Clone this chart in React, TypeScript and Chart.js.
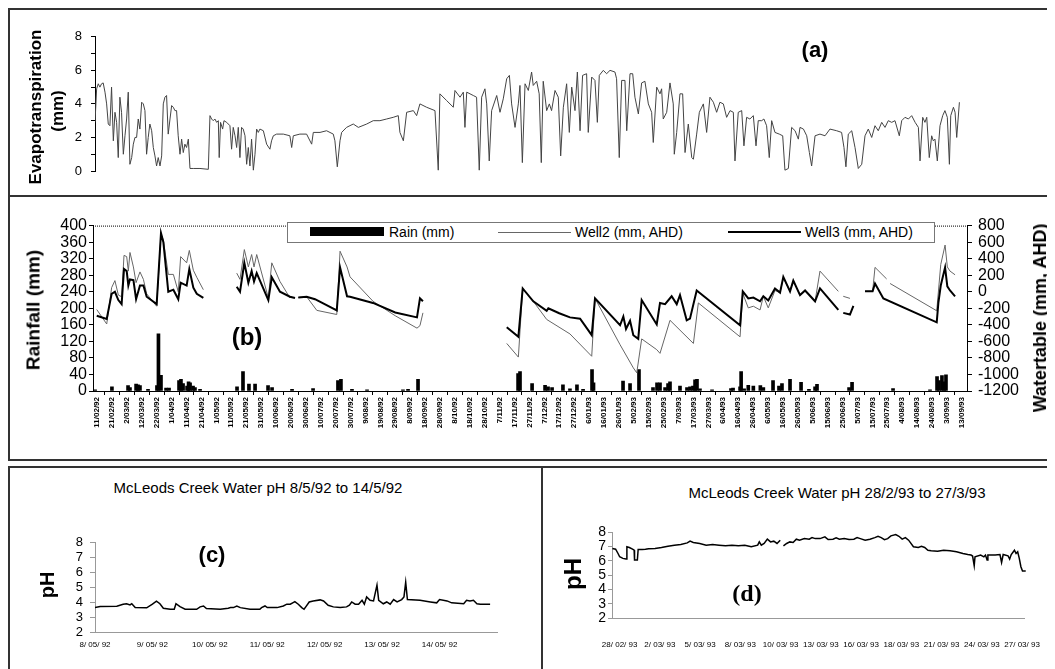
import React, { useEffect, useRef } from "react";
import { Chart, registerables } from "chart.js";
Chart.register(...registerables);

const SANS = '"Liberation Sans", Arial, Helvetica, sans-serif';
const SERIF = '"Liberation Serif", "Times New Roman", serif';
Chart.defaults.font.family = SANS;
Chart.defaults.color = "#000";

// ---------- Panel (a): evapotranspiration (x = days since 11/02/92) ----------
const etDays = [
  -1.3, -0.2, 0.9, 2.0, 3.1, 4.2, 5.4, 6.5, 7.6, 8.7, 9.8, 11.0, 12.1, 13.2, 14.3, 15.4, 16.5, 17.7, 18.8, 19.9,
  21.0, 22.1, 23.3, 24.4, 25.5, 26.6, 27.7, 28.8, 30.0, 31.1, 32.2, 33.3, 34.4, 35.5, 36.7, 37.8, 38.9, 40.0, 41.1, 42.3,
  43.4, 44.5, 45.6, 46.7, 47.8, 49.0, 50.1, 51.2, 52.3, 53.4, 54.5, 55.7, 56.8, 57.9, 59.0, 60.1, 61.3, 62.4, 64.6, 69.1,
  74.7, 75.8, 76.9, 78.0, 79.1, 80.3, 81.4, 82.0, 82.9, 84.3, 85.2, 87.0, 89.2, 90.3, 91.4, 92.6, 93.7, 94.8, 95.9, 97.0,
  98.1, 99.3, 100.4, 101.5, 102.6, 103.7, 104.9, 106.0, 107.1, 108.2, 109.3, 111.6, 113.8, 116.0, 117.1, 118.3, 120.5, 125.0, 129.4, 130.6,
  131.7, 136.1, 140.6, 144.0, 145.1, 149.6, 154.0, 158.5, 159.6, 161.2, 163.0, 164.1, 167.4, 171.9, 175.3, 180.9, 185.3, 189.8, 194.3, 198.7,
  202.1, 203.2, 205.5, 207.7, 212.2, 214.4, 216.6, 221.1, 226.7, 228.9, 230.0, 234.5, 239.0, 240.1, 243.5, 245.7, 246.8, 248.0, 252.4, 254.6,
  256.4, 258.0, 260.2, 261.4, 263.1, 264.7, 268.1, 270.3, 272.5, 274.8, 276.6, 278.1, 280.4, 282.6, 283.7, 285.3, 287.1, 289.3, 291.5, 292.6,
  294.9, 296.6, 298.0, 299.3, 301.6, 303.4, 304.9, 307.2, 309.4, 311.0, 312.8, 315.0, 316.8, 318.4, 320.6, 322.2, 324.0, 325.7, 328.4, 329.5,
  331.8, 334.0, 335.6, 336.9, 339.6, 341.8, 344.1, 347.4, 348.5, 350.3, 351.9, 354.1, 355.3, 357.5, 359.3, 360.8, 363.1, 365.3, 367.5, 369.8,
  372.0, 373.1, 375.4, 377.6, 378.7, 379.8, 382.1, 384.3, 386.5, 387.2, 388.8, 391.0, 392.8, 394.4, 396.6, 398.9, 400.0, 402.2, 404.0, 406.7,
  408.9, 411.1, 413.4, 415.6, 417.8, 420.1, 422.3, 424.6, 426.8, 427.9, 430.1, 432.4, 433.9, 435.7, 437.9, 440.2, 442.0, 443.5, 445.8, 447.3,
  449.1, 450.9, 452.5, 454.7, 457.6, 459.9, 461.4, 463.7, 465.9, 468.2, 470.4, 471.5, 473.8, 476.0, 477.8, 479.3, 481.6, 484.9, 488.3, 491.6,
  496.1, 499.4, 501.0, 502.3, 503.9, 506.2, 508.4, 510.6, 512.9, 515.1, 517.3, 519.6, 521.8, 524.0, 526.3, 528.5, 530.7, 533.0, 535.2, 538.1,
  539.7, 541.9, 544.2, 546.4, 548.7, 550.9, 552.0, 553.8, 555.3, 556.5, 558.2, 559.8, 560.9, 562.0, 563.6, 565.4, 567.2, 568.7, 570.3, 571.7,
  572.6, 574.4, 575.5, 576.6, 578.4,
];
const etVals = [
  2.9, 4.9, 5.2, 5.0, 5.2, 5.25, 4.7, 4.0, 2.8, 2.7, 5.0, 1.8, 3.5, 2.9, 0.8, 4.4, 3.5, 1.0, 2.1, 3.1,
  4.7, 0.4, 0.8, 1.6, 2.0, 2.0, 3.1, 2.5, 4.1, 4.0, 3.6, 1.0, 2.0, 2.8, 2.4, 1.4, 0.9, 0.3, 0.8, 0.3,
  0.9, 4.0, 4.4, 4.5, 2.2, 3.1, 3.9, 3.8, 3.6, 3.6, 2.1, 1.0, 1.9, 1.1, 1.6, 1.4, 1.9, 0.15, 0.15, 0.15,
  0.1, 3.3, 3.1, 3.0, 3.1, 2.9, 3.0, 0.8, 2.9, 2.5, 3.0, 2.9, 2.7, 1.3, 2.6, 2.1, 1.4, 2.6, 0.8, 2.6,
  2.5, 2.1, 0.4, 1.4, 0.3, 1.9, 0.05, 1.0, 2.5, 2.3, 2.5, 2.4, 1.6, 1.3, 1.8, 2.1, 2.2, 2.2, 2.1, 1.4,
  2.1, 2.2, 2.2, 1.6, 2.3, 2.3, 2.4, 2.2, 1.8, 0.25, 1.8, 2.3, 2.6, 2.8, 2.6, 2.8, 3.0, 3.0, 3.1, 3.2,
  3.3, 2.3, 1.8, 3.5, 3.6, 3.3, 4.0, 3.8, 3.6, 0.05, 4.6, 4.2, 3.8, 4.8, 4.4, 4.7, 2.6, 4.7, 4.5, 4.4,
  0.05, 4.4, 4.9, 4.0, 0.6, 3.6, 4.5, 3.5, 4.3, 5.5, 5.7, 4.0, 2.6, 4.0, 5.1, 0.5, 5.2, 4.8, 5.9, 5.1,
  5.35, 4.6, 0.5, 5.35, 3.6, 4.0, 3.6, 4.8, 4.4, 0.9, 3.8, 5.2, 2.3, 5.0, 3.6, 5.9, 2.4, 5.7, 5.8, 2.3,
  5.6, 5.4, 2.9, 5.7, 6.0, 5.8, 6.0, 5.9, 5.5, 0.8, 5.4, 5.4, 2.4, 5.8, 5.8, 4.4, 3.4, 5.25, 5.35, 4.0,
  3.5, 1.7, 5.0, 4.6, 4.9, 3.1, 3.5, 5.25, 4.0, 1.0, 2.3, 4.6, 4.6, 1.1, 2.8, 0.8, 0.7, 2.2, 3.5, 4.0,
  2.3, 4.4, 4.1, 3.5, 4.1, 4.0, 3.2, 3.6, 3.5, 0.6, 3.5, 3.6, 1.5, 3.2, 3.1, 3.3, 1.5, 3.0, 3.0, 3.1,
  2.7, 0.8, 3.0, 2.3, 2.2, 2.1, 0.05, 0.15, 2.6, 2.4, 1.9, 2.6, 2.5, 2.1, 1.1, 0.3, 2.1, 2.2, 2.1, 2.5,
  2.4, 2.3, 1.4, 0.25, 2.2, 2.4, 1.4, 0.15, 0.4, 2.1, 2.5, 2.0, 2.7, 2.4, 2.9, 2.6, 3.0, 2.9, 3.0, 2.1,
  3.0, 3.2, 3.1, 3.3, 2.9, 2.6, 0.6, 3.2, 2.9, 3.2, 0.8, 2.1, 1.8, 1.9, 0.6, 2.7, 3.3, 3.6, 3.2, 0.4,
  3.3, 3.8, 3.5, 2.0, 4.1,
];

// ---------- Panel (b): rainfall and water table ----------
const bTickLabels = [
  "11/02/92", "21/02/92", "2/03/92", "12/03/92", "22/03/92", "1/04/92", "11/04/92", "21/04/92", "1/05/92", "11/05/92",
  "21/05/92", "31/05/92", "10/06/92", "20/06/92", "30/06/92", "10/07/92", "20/07/92", "30/07/92", "9/08/92", "19/08/92",
  "29/08/92", "8/09/92", "18/09/92", "28/09/92", "8/10/92", "18/10/92", "28/10/92", "7/11/92", "17/11/92", "27/11/92",
  "7/12/92", "17/12/92", "27/12/92", "6/01/93", "16/01/93", "26/01/93", "5/02/93", "15/02/93", "25/02/93", "7/03/93",
  "17/03/93", "27/03/93", "6/04/93", "16/04/93", "26/04/93", "6/05/93", "16/05/93", "26/05/93", "5/06/93", "15/06/93",
  "25/06/93", "5/07/93", "15/07/93", "25/07/93", "4/08/93", "14/08/93", "24/08/93", "3/09/93", "13/09/93",
];
const rainDays = [
  -1.3, 10, 20.8, 22.1, 26.2, 27.5, 28.8, 34.2, 40.2, 41.2, 42.9, 46.3, 48.3, 55, 56.3, 57.7, 60.4, 61.4, 62.4, 64.4,
  65.7, 69.1, 93.9, 97.9, 101.9, 106, 114.7, 117.4, 130.8, 144.9, 161.6, 163.6, 171, 181.1, 205.2, 208.6, 215.3, 282.4, 283.7, 291.8,
  300.5, 302.5, 305.2, 312.5, 317.2, 321.9, 326, 332, 333, 352.8, 357.5, 363.5, 372.9, 375.6, 377.6, 381, 383, 384.3, 391, 395.7,
  397.7, 399.7, 401.1, 402.4, 404.4, 412.5, 425.2, 426.6, 431.3, 432, 434, 436.8, 440.2, 444.9, 446.9, 453.4, 457.4, 459.4, 464.8, 472.2,
  477.5, 481.6, 482.9, 504.4, 506.4, 533.9, 558.7, 563.4, 564.7, 566.7, 568.1, 569.4,
];
const rainVals = [
  3, 10, 13, 8, 17, 15, 13, 4, 13, 138, 38, 7, 7, 25, 28, 18, 12, 22, 20, 12,
  8, 4, 10, 47, 17, 17, 13, 8, 4, 6, 25, 28, 4, 3, 3, 4, 28, 42, 47, 18,
  14, 10, 8, 15, 5, 15, 4, 52, 20, 24, 18, 52, 8, 20, 20, 8, 18, 22, 12, 8,
  10, 12, 27, 28, 5, 3, 6, 7, 10, 47, 5, 14, 12, 13, 8, 25, 12, 18, 28, 21,
  4, 10, 16, 8, 21, 6, 3, 35, 25, 37, 22, 39,
];
const well2Days = [
  -0.2, 6.5, 9.8, 12, 14.3, 16.5, 18.1, 19.9, 21, 22.1, 24.4, 26.2, 28.8, 31.1, 33.3, 40, 42.9, 44.5, 47.8, 51.2,
  54.5, 56.1, 60.1, 61.9, 64.6, 66.9, 71.3, 80, 93.7, 95.9, 98.8, 101.5, 103.7, 105.3, 107.1, 114.9, 117.2, 122.7, 129.4, 132,
  135, 140.6, 147.4, 160.8, 163, 167.7, 169.7, 185.1, 200, 214.6, 216.6, 218.6, 240, 274.8, 282.6, 285.5, 292.6, 301.6, 317.2, 331.8,
  334, 350.8, 359.7, 362, 365.3, 375.4, 377.6, 384.3, 400, 403.3, 431.3, 433.1, 436.8, 440.2, 444.7, 446.9, 450.2, 454.7, 458.1, 460.3,
  464.8, 467, 471.5, 474.9, 481.6, 484.9, 497.2, 499, 500.5, 505, 510, 515.1, 520.2, 521.8, 529.6, 530.5, 531.9, 563.2, 565.9, 568.8,
  570.3, 572.1, 575.5,
];
const well2Vals = [
  -215, -390, 50, 135, -40, -60, 440, 425, 250, 475, 300, 110, 240, 150, -25, -175, 700, 625, 210, 210,
  0, 425, 350, 500, 260, 175, 25, null, 225, 150, 510, 300, 450, 300, 450, -75, 350, 125, -75, null,
  -70, -60, -225, -275, 490, 300, 180, -115, -290, -440, -410, -255, null, -625, -790, 40, -115, -335, -510, -780,
  -80, -640, -920, -980, -570, -700, -745, -345, -625, -135, -545, -20, -195, -175, -220, -55, -195, 15, -10, 165,
  5, 135, -40, 15, -115, 250, 5, null, -55, -80, null, 5, 5, 295, 155, null, 100, -230, 330, 565,
  300, 250, 205,
];
const well3Days = [
  -0.2, 6.5, 9.8, 12, 14.3, 16.5, 18.1, 19.9, 21, 22.1, 24.4, 26.2, 28.8, 31.1, 33.3, 40, 42.9, 44.5, 47.8, 51.2,
  54.5, 56.1, 60.1, 61.9, 64.6, 66.9, 71.3, 80, 93.7, 95.9, 98.8, 101.5, 103.7, 105.3, 107.1, 114.9, 117.2, 122.7, 129.4, 132.8,
  134, 135, 140.6, 146.2, 160.8, 163, 167.7, 169.7, 185.1, 200, 214.6, 216.6, 218.6, 240, 274.8, 282.6, 285.5, 292.6, 301.6, 302.7,
  310, 317.2, 324, 331.8, 334, 350.8, 353, 354.8, 357.5, 359.7, 363, 365.3, 375.4, 377.6, 381, 385.4, 388.8, 391, 395.5, 397.7,
  402.2, 431.3, 433.1, 436.8, 440.2, 444.7, 446.9, 450.2, 454.7, 458.1, 460.3, 464.8, 467, 471.5, 474.9, 481.6, 484.9, 497.2, 499, 500.5,
  505, 507.3, 511, 515.1, 520.2, 521.8, 527.4, 563.2, 564.3, 565.9, 568.8, 570.3, 572.1, 575.5,
];
const well3Vals = [
  -290, -330, -25, 0, -100, -150, 275, 250, 75, 150, 140, -90, 75, 75, -60, -150, 710, 600, 0, 25,
  -90, 110, 75, 275, 50, -25, -75, null, 60, 0, 350, 110, 250, 125, 225, -100, 175, 0, -60, -75,
  null, -70, -60, -90, -225, 295, -55, -60, -135, -250, -310, -80, -115, null, -430, -545, 40, -115, -230, -200,
  -260, -310, -325, -525, -80, -405, -300, -450, -350, -525, -570, -100, -395, -135, -150, -55, -150, -40, -345, -325,
  15, -405, 5, -80, -70, -115, -55, -105, 40, -10, 180, 5, 135, -40, 15, -115, 40, -220, null, -255,
  -275, -170, null, 5, 5, 100, -80, -370, -135, 75, 295, 65, 15, -55,
];

// ---------- Panel (c): creek pH 8/5/92 to 14/5/92 (x = days) ----------
const cTickLabels = ["8/ 05/ 92", "9/ 05/ 92", "10/ 05/ 92", "11/ 05/ 92", "12/ 05/ 92", "13/ 05/ 92", "14/ 05/ 92"];
const cDays = [
  0, 0.09, 0.38, 0.49, 0.55, 0.61, 0.64, 0.7, 0.9, 1.0, 1.07, 1.13, 1.19, 1.31, 1.38, 1.41, 1.48, 1.57, 1.77, 1.83,
  1.89, 1.94, 2.18, 2.32, 2.36, 2.41, 2.47, 2.53, 2.7, 2.87, 2.9, 2.96, 3.0, 3.17, 3.28, 3.34, 3.4, 3.45, 3.48, 3.54,
  3.6, 3.64, 3.67, 3.73, 3.8, 3.92, 3.98, 4.06, 4.15, 4.27, 4.38, 4.43, 4.47, 4.53, 4.59, 4.65, 4.69, 4.73, 4.79, 4.85,
  4.91, 4.94, 5.02, 5.08, 5.14, 5.2, 5.26, 5.34, 5.38, 5.41, 5.44, 5.66, 5.84, 5.95, 6.0, 6.13, 6.21, 6.42, 6.47, 6.53,
  6.59, 6.65, 6.71, 6.88,
];
const cPH = [
  3.65, 3.72, 3.73, 3.86, 3.9, 3.82, 3.9, 3.65, 3.63, 3.88, 4.08, 3.9, 3.6, 3.53, 3.53, 3.9, 3.7, 3.53, 3.53, 3.69,
  3.75, 3.58, 3.53, 3.6, 3.64, 3.64, 3.75, 3.64, 3.53, 3.53, 3.64, 3.75, 3.64, 3.64, 3.75, 3.87, 3.87, 3.98, 4.04, 3.87,
  3.64, 3.53, 3.69, 4.02, 4.09, 4.16, 4.09, 3.8, 3.69, 3.64, 3.69, 3.8, 4.02, 3.87, 3.87, 4.13, 3.87, 4.36, 4.13, 4.09,
  5.15, 4.13, 3.9, 4.02, 3.87, 4.18, 4.02, 4.18, 4.36, 5.35, 4.18, 4.13, 4.02, 3.96, 4.18, 4.09, 3.96, 3.9, 4.13, 4.09,
  4.13, 3.9, 3.87, 3.87,
];

// ---------- Panel (d): creek pH 28/2/93 to 27/3/93 (x = label slot) ----------
const dTickLabels = [
  "28/ 02/ 93", "2/ 03/ 93", "5/ 03/ 93", "8/ 03/ 93", "10/ 03/ 93", "13/ 03/ 93",
  "16/ 03/ 93", "18/ 03/ 93", "21/ 03/ 93", "24/ 03/ 93", "27/ 03/ 93",
];
const dPos = [
  -0.18, -0.1, -0.04, 0, 0.08, 0.16, 0.18, 0.24, 0.32, 0.36, 0.37, 0.44, 0.46, 0.56, 0.64, 0.72, 0.88, 1.04, 1.2, 1.36,
  1.52, 1.68, 1.75, 1.83, 1.99, 2.15, 2.31, 2.47, 2.63, 2.79, 2.95, 3.11, 3.27, 3.43, 3.47, 3.52, 3.59, 3.67, 3.75, 3.83,
  3.91, 3.99, 4.03, 4.07, 4.15, 4.23, 4.31, 4.39, 4.47, 4.59, 4.71, 4.78, 4.86, 4.98, 5.1, 5.18, 5.3, 5.38, 5.46, 5.58,
  5.7, 5.82, 5.9, 5.98, 6.1, 6.22, 6.34, 6.42, 6.5, 6.58, 6.66, 6.74, 6.86, 6.94, 7.02, 7.1, 7.18, 7.3, 7.42, 7.5,
  7.58, 7.66, 7.74, 7.9, 8.05, 8.21, 8.37, 8.53, 8.65, 8.73, 8.77, 8.81, 8.83, 8.97, 9.05, 9.09, 9.13, 9.15, 9.33, 9.45,
  9.49, 9.53, 9.65, 9.69, 9.73, 9.81, 9.85, 9.89, 9.93, 9.97, 10.01, 10.09, 10.17,
];
const dPH = [
  6.85, 6.8, 6.5, 6.27, 6.16, 6.11, 6.97, 6.92, 6.8, 6.73, 6.04, 6.04, 6.78, 6.78, 6.8, 6.83, 6.85, 6.92, 7.01, 7.08,
  7.13, 7.24, 7.36, 7.27, 7.2, 7.08, 7.13, 7.08, 7.04, 7.08, 7.04, 7.08, 6.97, 7.08, 7.31, 7.08, 7.2, 7.5, 7.31, 7.36,
  7.2, 7.43, null, 7.03, 7.2, 7.31, 7.27, 7.5, 7.43, 7.54, 7.5, 7.61, 7.54, 7.54, 7.66, 7.47, 7.5, 7.59, 7.5, 7.54,
  7.47, 7.5, 7.61, 7.54, 7.43, 7.5, 7.61, 7.7, 7.61, 7.47, 7.54, 7.73, 7.82, 7.7, 7.5, 7.61, 7.43, 6.97, 6.92, 7.0,
  6.92, 6.73, 6.69, 6.66, 6.73, 6.69, 6.62, 6.5, 6.43, 6.39, 6.32, 5.65, 6.27, 6.39, 6.27, 6.39, 6.04, 6.39, 6.39, 6.43,
  5.88, 6.43, 6.34, 6.11, 6.43, 6.73, 6.5, 6.62, 6.16, 5.58, 5.28, 5.28, 5.58,
];

// ---------- helpers ----------
const pts = (xs: number[], ys: (number | null)[]) => xs.map((x, i) => ({ x, y: ys[i] }));
const fixedTicks = (values: number[]) => (s: any) => {
  s.ticks = values.map((v) => ({ value: v }));
};
const range = (a: number, b: number) => {
  const r: number[] = [];
  for (let i = a; i <= b; i++) r.push(i);
  return r;
};
const B_XMIN = -2.7;
const XMAX = 583.5;
const A_XMIN = -1.3;

const dottedTop = {
  id: "dottedTop",
  afterDraw(chart: any) {
    const { ctx, chartArea: a } = chart;
    ctx.save();
    ctx.strokeStyle = "#000";
    ctx.lineWidth = 1;
    ctx.setLineDash([1, 1]);
    ctx.beginPath();
    ctx.moveTo(a.left, a.top + 0.5);
    ctx.lineTo(a.right, a.top + 0.5);
    ctx.stroke();
    ctx.restore();
  },
};

const baseOpts = {
  animation: false,
  responsive: false,
  events: [],
  plugins: { legend: { display: false }, tooltip: { enabled: false }, title: { display: false } },
};

function configA(): any {
  return {
    type: "line",
    data: {
      datasets: [
        { data: pts(etDays, etVals), borderColor: "#444", borderWidth: 1, pointRadius: 0, tension: 0 },
      ],
    },
    options: {
      ...baseOpts,
      layout: { padding: { top: 10, right: 73, bottom: 19, left: 0 } },
      scales: {
        x: { type: "linear", display: false, min: A_XMIN, max: XMAX },
        y: {
          min: 0,
          max: 8,
          afterBuildTicks: fixedTicks(range(0, 8)),
          afterFit: (s: any) => { s.width = 85; },
          ticks: { autoSkip: false, callback: (v: number) => (v % 2 === 0 ? String(v) : ""), font: { size: 13 }, color: "#000", padding: 9 },
          grid: { drawOnChartArea: false, tickLength: 4, color: "#000" },
          border: { color: "#000" },
        },
      },
    },
  };
}

function configB(): any {
  return {
    type: "line",
    data: {
      datasets: [
        { label: "Well3 (mm, AHD)", data: pts(well3Days, well3Vals), yAxisID: "yW", borderColor: "#000", borderWidth: 2, pointRadius: 0, tension: 0 },
        { label: "Well2 (mm, AHD)", data: pts(well2Days, well2Vals), yAxisID: "yW", borderColor: "#666", borderWidth: 1, pointRadius: 0, tension: 0 },
        { type: "bar", label: "Rain (mm)", data: pts(rainDays, rainVals), yAxisID: "yR", backgroundColor: "#000", barThickness: 3, grouped: false },
      ],
    },
    options: {
      ...baseOpts,
      layout: { padding: { top: 10, right: 13, bottom: 0, left: 0 } },
      scales: {
        x: {
          type: "linear",
          min: B_XMIN,
          max: XMAX,
          offset: false,
          afterBuildTicks: fixedTicks(bTickLabels.map((_, i) => i * 10)),
          afterFit: (s: any) => { s.height = 64; },
          ticks: {
            autoSkip: false,
            maxRotation: 90,
            minRotation: 90,
            font: { size: 8, weight: "bold" },
            color: "#000",
            padding: 2,
            callback: (v: number) => bTickLabels[Math.round(v / 10)],
          },
          grid: { drawOnChartArea: false, tickLength: 4, color: "#000" },
          border: { color: "#000" },
        },
        yR: {
          position: "left",
          min: 0,
          max: 400,
          afterBuildTicks: fixedTicks(range(0, 10).map((i) => i * 40)),
          afterFit: (s: any) => { s.width = 83; },
          ticks: { autoSkip: false, font: { size: 16 }, color: "#000", padding: 2, callback: (v: number) => String(v) },
          grid: { drawOnChartArea: false, tickLength: 4, color: "#000" },
          border: { color: "#000" },
        },
        yW: {
          position: "right",
          min: -1200,
          max: 800,
          afterBuildTicks: fixedTicks(range(0, 10).map((i) => -1200 + i * 200)),
          afterFit: (s: any) => { s.width = 60; },
          ticks: { autoSkip: false, font: { size: 16 }, color: "#000", padding: 6, callback: (v: number) => String(v) },
          grid: { drawOnChartArea: false, tickLength: 5, color: "#000" },
          border: { color: "#000" },
        },
      },
    },
    plugins: [dottedTop],
  };
}

function configC(): any {
  return {
    type: "line",
    data: {
      datasets: [{ data: pts(cDays, cPH), borderColor: "#000", borderWidth: 1.5, pointRadius: 0, tension: 0 }],
    },
    options: {
      ...baseOpts,
      layout: { padding: { top: 14, right: 38, bottom: 0, left: 0 } },
      scales: {
        x: {
          type: "linear",
          min: 0,
          max: 7,
          afterBuildTicks: fixedTicks(range(0, 6)),
          afterFit: (s: any) => { s.height = 31; },
          ticks: { autoSkip: false, maxRotation: 0, font: { size: 8 }, color: "#000", padding: 8, callback: (v: number) => cTickLabels[Math.round(v)] },
          grid: { display: false, drawTicks: false },
          border: { color: "#999" },
        },
        y: {
          min: 2,
          max: 8,
          afterBuildTicks: fixedTicks(range(2, 8)),
          afterFit: (s: any) => { s.width = 85; },
          ticks: { autoSkip: false, font: { size: 13 }, color: "#000", padding: 7 },
          grid: { drawOnChartArea: false, tickLength: 5, color: "#999" },
          border: { color: "#999" },
        },
      },
    },
  };
}

function configD(): any {
  return {
    type: "line",
    data: {
      datasets: [{ data: pts(dPos, dPH), borderColor: "#000", borderWidth: 1.5, pointRadius: 0, tension: 0, clip: false }],
    },
    options: {
      ...baseOpts,
      layout: { padding: { top: 12, right: 22, bottom: 0, left: 0 } },
      scales: {
        x: {
          type: "linear",
          min: -0.19,
          max: 10.05,
          afterBuildTicks: fixedTicks(range(0, 10)),
          afterFit: (s: any) => { s.height = 45; },
          ticks: { autoSkip: false, maxRotation: 0, font: { size: 8 }, color: "#000", padding: 22, callback: (v: number) => dTickLabels[Math.round(v)] },
          grid: { display: false, drawTicks: false },
          border: { color: "#999" },
        },
        y: {
          min: 2,
          max: 8,
          afterBuildTicks: fixedTicks(range(2, 8)),
          afterFit: (s: any) => { s.width = 67; },
          ticks: { autoSkip: false, font: { size: 14 }, color: "#000", padding: 2 },
          grid: { drawOnChartArea: false, tickLength: 4, color: "#999" },
          border: { color: "#999" },
        },
      },
    },
  };
}

function ChartCanvas(props: { left: number; top: number; width: number; height: number; make: () => any }) {
  const ref = useRef<HTMLCanvasElement>(null);
  useEffect(() => {
    const chart = new Chart(ref.current as HTMLCanvasElement, props.make());
    return () => chart.destroy();
  }, []);
  return (
    <canvas
      ref={ref}
      width={props.width}
      height={props.height}
      style={{ position: "absolute", left: props.left, top: props.top, width: props.width, height: props.height }}
    />
  );
}

function CText(props: { cx: number; cy: number; text: string; style?: any }) {
  return (
    <div
      style={{
        position: "absolute",
        left: props.cx,
        top: props.cy,
        transform: "translate(-50%, -50%)",
        whiteSpace: "nowrap",
        lineHeight: 1,
        fontFamily: SANS,
        ...props.style,
      }}
    >
      {props.text}
    </div>
  );
}

function VText(props: { cx: number; cy: number; text: string; style?: any }) {
  return (
    <div
      style={{
        position: "absolute",
        left: props.cx,
        top: props.cy,
        transform: "translate(-50%, -50%) rotate(-90deg)",
        whiteSpace: "nowrap",
        lineHeight: 1,
        fontFamily: SANS,
        fontWeight: "bold",
        ...props.style,
      }}
    >
      {props.text}
    </div>
  );
}

const BORDER = "2px solid #333";

export default function App() {
  // coordinates below are relative to the root (page offset 8,8)
  return (
    <div style={{ position: "relative", width: 1047, height: 661, overflow: "hidden", background: "#fff", fontFamily: SANS }}>
      {/* frames */}
      <div style={{ position: "absolute", left: 0, top: 0, width: 1100, height: 189, boxSizing: "border-box", borderLeft: BORDER, borderTop: BORDER, borderBottom: BORDER }} />
      <div style={{ position: "absolute", left: 0, top: 189, width: 1100, height: 264, boxSizing: "border-box", borderLeft: BORDER, borderBottom: BORDER }} />
      <div style={{ position: "absolute", left: 0, top: 458, width: 535, height: 260, boxSizing: "border-box", borderLeft: BORDER, borderTop: BORDER, borderRight: BORDER }} />
      <div style={{ position: "absolute", left: 535, top: 458, width: 600, height: 260, boxSizing: "border-box", borderTop: BORDER }} />

      {/* panel (a) */}
      <ChartCanvas left={2} top={12} width={1030} height={170} make={configA} />
      <CText cx={807} cy={42} text="(a)" style={{ fontWeight: "bold", fontSize: 22 }} />
      <VText cx={27} cy={99} text="Evapotranspiration" style={{ fontSize: 17 }} />
      <VText cx={49} cy={103} text="(mm)" style={{ fontSize: 17 }} />

      {/* panel (b) */}
      <ChartCanvas left={2} top={202} width={1030} height={245} make={configB} />
      <VText cx={25} cy={302} text="Rainfall (mm)" style={{ fontSize: 19 }} />
      <VText cx={1032} cy={310} text="Watertable (mm, AHD)" style={{ fontSize: 18 }} />
      <CText cx={239} cy={329} text="(b)" style={{ fontWeight: "bold", fontSize: 24 }} />
      <div style={{ position: "absolute", left: 279, top: 214, width: 648, height: 21, boxSizing: "border-box", border: "1px solid #777", background: "#fff", fontSize: 14 }}>
        <div style={{ position: "absolute", left: 22, top: 4, width: 74, height: 9, background: "#000" }} />
        <div style={{ position: "absolute", left: 101, top: 0, lineHeight: "19px", whiteSpace: "nowrap" }}>Rain (mm)</div>
        <div style={{ position: "absolute", left: 210, top: 9, width: 73, height: 1, background: "#666" }} />
        <div style={{ position: "absolute", left: 287, top: 0, lineHeight: "19px", whiteSpace: "nowrap" }}>Well2 (mm, AHD)</div>
        <div style={{ position: "absolute", left: 440, top: 8, width: 73, height: 2, background: "#000" }} />
        <div style={{ position: "absolute", left: 517, top: 0, lineHeight: "19px", whiteSpace: "nowrap" }}>Well3 (mm, AHD)</div>
      </div>

      {/* panel (c) */}
      <ChartCanvas left={2} top={520} width={525} height={135} make={configC} />
      <CText cx={250} cy={479} text="McLeods Creek Water pH 8/5/92 to 14/5/92" style={{ fontSize: 15 }} />
      <CText cx={204} cy={547} text="(c)" style={{ fontWeight: "bold", fontSize: 22 }} />
      <VText cx={39} cy={577} text="pH" style={{ fontSize: 20 }} />

      {/* panel (d) */}
      <ChartCanvas left={537} top={512} width={517} height={143} make={configD} />
      <CText cx={829} cy={484} text="McLeods Creek Water pH 28/2/93 to 27/3/93" style={{ fontSize: 15 }} />
      <CText cx={739} cy={585} text="(d)" style={{ fontWeight: "bold", fontSize: 24, fontFamily: SERIF }} />
      <VText cx={565} cy={566} text="pH" style={{ fontSize: 24 }} />
    </div>
  );
}
